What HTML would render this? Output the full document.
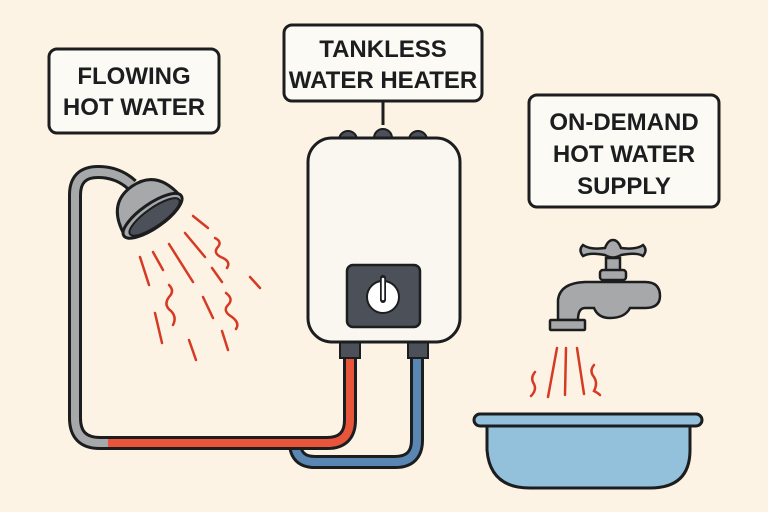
<!DOCTYPE html>
<html><head><meta charset="utf-8"><style>
html,body{margin:0;padding:0;background:#fcf3e4;}
svg{display:block}
text{font-family:"Liberation Sans",sans-serif;font-weight:bold;fill:#1c1d1f;text-anchor:middle}
</style></head><body>
<svg width="768" height="512" viewBox="0 0 768 512" xmlns="http://www.w3.org/2000/svg">
<rect width="768" height="512" fill="#fcf3e4"/>
<!-- labels -->
<rect x="49" y="49" width="170" height="84" rx="8" fill="#fcfaf5" stroke="#1c1d1f" stroke-width="3"/>
<text x="134" y="84" font-size="24">FLOWING</text>
<text x="134" y="115" font-size="24">HOT WATER</text>
<rect x="284" y="25" width="198" height="76" rx="8" fill="#fcfaf5" stroke="#1c1d1f" stroke-width="3"/>
<text x="383" y="57" font-size="24">TANKLESS</text>
<text x="383" y="88" font-size="24">WATER HEATER</text>
<line x1="383" y1="101" x2="383" y2="125" stroke="#1c1d1f" stroke-width="3"/>
<rect x="529" y="95" width="190" height="112" rx="8" fill="#fcfaf5" stroke="#1c1d1f" stroke-width="3"/>
<text x="624" y="130" font-size="24">ON-DEMAND</text>
<text x="624" y="162" font-size="24">HOT WATER</text>
<text x="624" y="194" font-size="24">SUPPLY</text>
<!-- pipes -->
<path d="M417 350 V440 Q417 462 395 462 H315 Q295 462 295 442" fill="none" stroke="#1c1d1f" stroke-width="14"/>
<path d="M417 350 V440 Q417 462 395 462 H315 Q295 462 295 442" fill="none" stroke="#5a86b3" stroke-width="8"/>
<path d="M350 350 V420 Q350 443 327 443 H100 Q75 443 75 418 V195 Q75 172 98 172 Q118 172 132 185" fill="none" stroke="#1c1d1f" stroke-width="14"/>
<path d="M75 418 V195 Q75 172 98 172 Q118 172 132 185 M108 443 H100 Q75 443 75 418" fill="none" stroke="#a7a8aa" stroke-width="8"/>
<path d="M108 443 H327 Q350 443 350 420 V350" fill="none" stroke="#e8553a" stroke-width="8"/>
<!-- fittings -->
<rect x="340" y="340" width="20" height="18" fill="#4c5058" stroke="#1c1d1f" stroke-width="2"/>
<rect x="408" y="340" width="20" height="18" fill="#4c5058" stroke="#1c1d1f" stroke-width="2"/>
<!-- heater -->
<circle cx="348" cy="140" r="9" fill="#4c5058" stroke="#1c1d1f" stroke-width="2"/>
<circle cx="383" cy="138" r="9" fill="#4c5058" stroke="#1c1d1f" stroke-width="2"/>
<circle cx="418" cy="140" r="9" fill="#4c5058" stroke="#1c1d1f" stroke-width="2"/>
<rect x="308" y="138" width="152" height="204" rx="24" fill="#faf7f1" stroke="#1c1d1f" stroke-width="3"/>
<rect x="347" y="265" width="73" height="62" rx="6" fill="#4c5058" stroke="#1c1d1f" stroke-width="2.5"/>
<circle cx="383" cy="297" r="16" fill="#fff" stroke="#1c1d1f" stroke-width="2"/>
<line x1="383" y1="278" x2="383" y2="300" stroke="#1c1d1f" stroke-width="6" stroke-linecap="round"/>
<line x1="383" y1="279" x2="383" y2="299" stroke="#fff" stroke-width="2.5" stroke-linecap="round"/>
<!-- shower head -->
<g transform="rotate(-35 152 215)">
<path d="M118 215 Q122 180 152 180 Q182 180 186 215 Z" fill="#a7a8aa" stroke="#1c1d1f" stroke-width="3"/>
<ellipse cx="152" cy="216" rx="35" ry="12" fill="#a7a8aa" stroke="#1c1d1f" stroke-width="3"/>
<ellipse cx="153" cy="218" rx="30" ry="9" fill="#4c5058" stroke="#1c1d1f" stroke-width="2"/>
</g>
<!-- shower spray -->
<g stroke="#d63a24" stroke-width="2.5" fill="none" stroke-linecap="round">
<line x1="140" y1="257" x2="149" y2="285"/>
<line x1="153" y1="252" x2="163" y2="270"/>
<line x1="169" y1="244" x2="193" y2="282"/>
<line x1="185" y1="233" x2="205" y2="257"/>
<line x1="193" y1="216" x2="208" y2="228"/>
<line x1="212" y1="268" x2="222" y2="282"/>
<line x1="250" y1="277" x2="260" y2="288"/>
<line x1="155" y1="313" x2="162" y2="343"/>
<line x1="203" y1="297" x2="213" y2="318"/>
<line x1="189" y1="340" x2="196" y2="360"/>
<line x1="222" y1="331" x2="228" y2="350"/>
<path d="M215 238 q8 4 2 10 q-4 6 6 10 q8 4 4 10"/>
<path d="M169 285 q6 6 0 12 q-6 8 2 14 q6 6 2 14"/>
<path d="M226 293 q8 6 2 12 q-6 6 4 12 q8 6 4 12"/>
</g>
<!-- faucet -->
<g fill="#a7a8aa" stroke="#1c1d1f" stroke-width="2.5">
<rect x="606" y="258" width="14" height="22"/>
<path d="M583 245 Q590 250 605 248 Q608 240 613 240 Q618 240 621 248 Q636 250 643 245 Q648 250 643 256 Q636 252 621 255 Q613 260 605 255 Q590 252 583 256 Q578 250 583 245 Z"/>
<rect x="600" y="270" width="26" height="10" rx="3"/>
<path d="M558 320 V300 Q560 283 585 282 H645 Q660 282 660 296 Q660 308 645 308 H630 Q625 318 610 318 Q598 318 594 308 H585 Q578 308 578 320 Z"/>
<rect x="550" y="320" width="35" height="10" rx="1"/>
</g>
<g stroke="#d63a24" stroke-width="2.5" fill="none" stroke-linecap="round">
<line x1="557" y1="348" x2="548" y2="397"/>
<line x1="566" y1="348" x2="565" y2="395"/>
<line x1="577" y1="348" x2="584" y2="394"/>
<path d="M535 372 q-5 6 -1 12 q3 6 -3 12"/>
<path d="M594 365 q-5 6 0 12 q4 6 0 14 q4 2 6 4"/>
</g>
<!-- basin -->
<path d="M487 425 V450 Q490 488 530 488 H650 Q690 488 690 450 V425 Z" fill="#93c1dc" stroke="#1c1d1f" stroke-width="3"/>
<rect x="474" y="414" width="228" height="12" rx="6" fill="#93c1dc" stroke="#1c1d1f" stroke-width="3"/>
</svg>
</body></html>
